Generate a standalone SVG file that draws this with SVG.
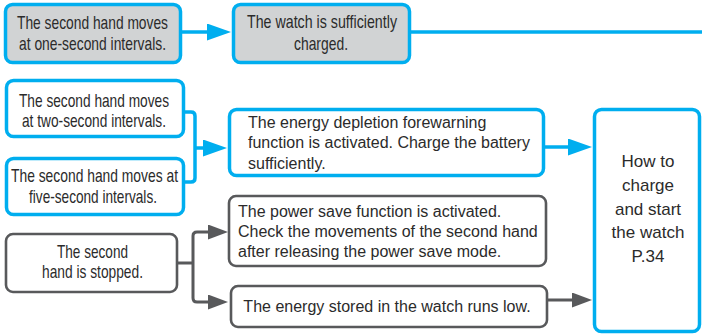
<svg xmlns="http://www.w3.org/2000/svg" width="702" height="335" viewBox="0 0 702 335">
<defs>
<style>
.bb{fill:#fff;stroke:#00aeef;stroke-width:3.5}
.bg{fill:#d1d3d4;stroke:#00aeef;stroke-width:3.5}
.gb{fill:#fff;stroke:#58595b;stroke-width:2.6}
.cb{fill:none;stroke:#00aeef;stroke-width:3.5}
.cg{fill:none;stroke:#58595b;stroke-width:3}
text{font-family:"Liberation Sans",Arial,sans-serif;fill:#2b2b2b}
.nc{font-size:17.8px}
.n16{font-size:16px}
.n17{font-size:17px}
</style>
<marker id="ab" markerUnits="userSpaceOnUse" viewBox="0 0 24 17" markerWidth="24" markerHeight="17" refX="12" refY="8.5" orient="auto">
<path d="M0,0 L24,8.5 L0,17 z" fill="#00aeef"/>
</marker>
<marker id="ag" markerUnits="userSpaceOnUse" viewBox="0 0 20 15" markerWidth="20" markerHeight="15" refX="10" refY="7.5" orient="auto">
<path d="M0,0 L20,7.5 L0,15 z" fill="#58595b"/>
</marker>
</defs>

<g id="connectors">
<path class="cb" d="M182,32 H219" marker-end="url(#ab)"/>
<path class="cb" d="M411,32 H702"/>
<path class="cb" d="M185,112 H191 Q195,112 195,116 V178 Q195,182 191,182 H185"/>
<path class="cb" d="M195,148 H215" marker-end="url(#ab)"/>
<path class="cb" d="M545,147 H580" marker-end="url(#ab)"/>
<path class="cg" d="M178,263 H193"/>
<path class="cg" d="M193,263 V236 Q193,232 197,232 H218" marker-end="url(#ag)"/>
<path class="cg" d="M193,263 V298 Q193,302 197,302 H218" marker-end="url(#ag)"/>
<path class="cg" d="M548,300 H582" marker-end="url(#ag)"/>
</g>

<g id="n1">
<rect class="bg" x="5.5" y="4.5" width="175" height="58" rx="7"/>
<text class="nc" x="17" y="29" textLength="151" lengthAdjust="spacingAndGlyphs">The second hand moves</text>
<text class="nc" x="19" y="50" textLength="147" lengthAdjust="spacingAndGlyphs">at one-second intervals.</text>
</g>

<g id="n2">
<rect class="bg" x="233.5" y="4.5" width="176" height="58" rx="7"/>
<text class="nc" x="247" y="28" textLength="150" lengthAdjust="spacingAndGlyphs">The watch is sufficiently</text>
<text class="nc" x="294" y="50" textLength="54" lengthAdjust="spacingAndGlyphs">charged.</text>
</g>

<g id="n3">
<rect class="bb" x="6.5" y="80.5" width="177" height="56" rx="7"/>
<text class="nc" x="19" y="107" textLength="150" lengthAdjust="spacingAndGlyphs">The second hand moves</text>
<text class="nc" x="22" y="127" textLength="144" lengthAdjust="spacingAndGlyphs">at two-second intervals.</text>
</g>

<g id="n4">
<rect class="bb" x="6.5" y="158.5" width="177" height="56" rx="7"/>
<text class="nc" x="11" y="182" textLength="167" lengthAdjust="spacingAndGlyphs">The second hand moves at</text>
<text class="nc" x="29" y="203" textLength="128" lengthAdjust="spacingAndGlyphs">five-second intervals.</text>
</g>

<g id="n5">
<rect class="bb" x="229.5" y="109.5" width="314" height="66" rx="7"/>
<text class="n16" x="248" y="128">The energy depletion forewarning</text>
<text class="n16" x="248" y="148">function is activated.  Charge the battery</text>
<text class="n16" x="248" y="169">sufficiently.</text>
</g>

<g id="n6">
<rect class="bb" x="594.5" y="109.5" width="105" height="222" rx="7"/>
<text class="n17" x="648" y="167" text-anchor="middle">How to</text>
<text class="n17" x="648" y="191" text-anchor="middle">charge</text>
<text class="n17" x="648" y="215" text-anchor="middle">and start</text>
<text class="n17" x="648" y="238" text-anchor="middle">the watch</text>
<text class="n17" x="648" y="262" text-anchor="middle">P.34</text>
</g>

<g id="n7">
<rect class="gb" x="6" y="234" width="171" height="58" rx="7"/>
<text class="nc" x="57" y="258" textLength="71" lengthAdjust="spacingAndGlyphs">The second</text>
<text class="nc" x="42" y="278" textLength="101" lengthAdjust="spacingAndGlyphs">hand is stopped.</text>
</g>

<g id="n8">
<rect class="gb" x="229" y="196" width="317" height="70" rx="7"/>
<text class="n16" x="238" y="217">The power save function is activated.</text>
<text class="n16" x="238" y="237">Check the movements of the second hand</text>
<text class="n16" x="238" y="257">after releasing the power save mode.</text>
</g>

<g id="n9">
<rect class="gb" x="231" y="286" width="316" height="41" rx="7"/>
<text class="n16" x="387" y="312" text-anchor="middle">The energy stored in the watch runs low.</text>
</g>
</svg>
